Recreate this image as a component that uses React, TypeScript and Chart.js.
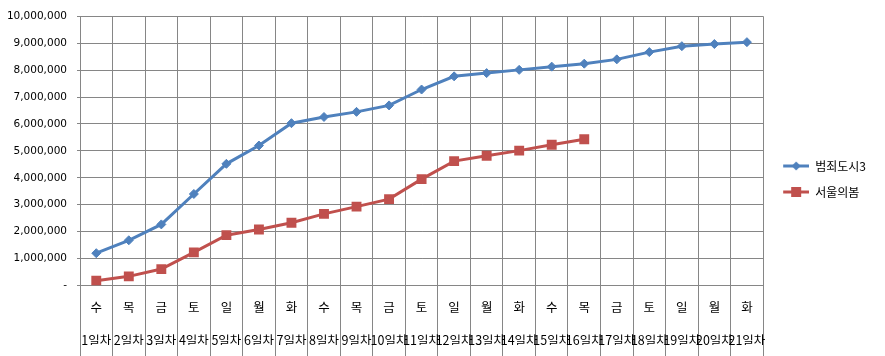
import { useEffect, useRef } from 'react';
import { Chart, registerables } from 'chart.js';

Chart.register(...registerables);

const weekdays = ['수', '목', '금', '토', '일', '월', '화', '수', '목', '금', '토', '일', '월', '화', '수', '목', '금', '토', '일', '월', '화'];
const dayNumbers = ['1일차', '2일차', '3일차', '4일차', '5일차', '6일차', '7일차', '8일차', '9일차', '10일차', '11일차', '12일차', '13일차', '14일차', '15일차', '16일차', '17일차', '18일차', '19일차', '20일차', '21일차'];
const crimeCity3 = [1200000, 1680000, 2270000, 3400000, 4520000, 5200000, 6030000, 6260000, 6450000, 6690000, 7280000, 7770000, 7890000, 8010000, 8130000, 8240000, 8400000, 8670000, 8890000, 8970000, 9040000];
const seoulSpring = [180000, 340000, 610000, 1230000, 1870000, 2080000, 2330000, 2660000, 2930000, 3210000, 3950000, 4620000, 4820000, 5010000, 5230000, 5430000];
const seriesNames = ['범죄도시3', '서울의봄'];
const yTicksMax = 10000000;
const yTickStep = 1000000;

const BLUE = '#4F81BD';
const RED = '#C0504D';
const GRID = '#868686';

function legendIcon(color: string, style: 'diamond' | 'square'): HTMLCanvasElement {
  const c = document.createElement('canvas');
  c.width = 32;
  c.height = 12;
  const ctx = c.getContext('2d')!;
  ctx.strokeStyle = color;
  ctx.lineWidth = 3;
  ctx.beginPath();
  ctx.moveTo(6, 6);
  ctx.lineTo(32, 6);
  ctx.stroke();
  ctx.fillStyle = color;
  const cx = 19;
  if (style === 'diamond') {
    ctx.beginPath();
    ctx.moveTo(cx, 1.5);
    ctx.lineTo(cx + 4.5, 6);
    ctx.lineTo(cx, 10.5);
    ctx.lineTo(cx - 4.5, 6);
    ctx.closePath();
    ctx.fill();
  } else {
    ctx.fillRect(cx - 5, 1, 10, 10);
  }
  return c;
}

export default function App() {
  const canvasRef = useRef<HTMLCanvasElement | null>(null);

  useEffect(() => {
    document.body.style.margin = '0';
    const canvas = canvasRef.current;
    if (!canvas) return;
    const icons = [legendIcon(BLUE, 'diamond'), legendIcon(RED, 'square')];
    const labels = weekdays.map((d, i) => [d, dayNumbers[i]]);
    const font = '"Noto Sans CJK KR", "DejaVu Sans", sans-serif';

    const chart = new Chart(canvas, {
      type: 'line',
      data: {
        labels,
        datasets: [
          {
            label: seriesNames[0],
            data: crimeCity3,
            borderColor: BLUE,
            backgroundColor: BLUE,
            borderWidth: 3,
            pointStyle: 'rectRot',
            pointRadius: 4.5,
            pointBorderWidth: 1,
            pointBackgroundColor: BLUE,
            pointBorderColor: BLUE,
            tension: 0,
          },
          {
            label: seriesNames[1],
            data: seoulSpring,
            borderColor: RED,
            backgroundColor: RED,
            borderWidth: 3,
            pointStyle: 'rect',
            pointRadius: 7,
            pointBorderWidth: 0,
            pointBackgroundColor: RED,
            pointBorderColor: RED,
            tension: 0,
          },
        ],
      },
      options: {
        animation: false,
        responsive: false,
        maintainAspectRatio: false,
        layout: { padding: { top: 13, right: 9, bottom: 11, left: 0 } },
        plugins: {
          tooltip: { enabled: false },
          legend: {
            position: 'right',
            labels: {
              usePointStyle: true,
              pointStyleWidth: 32,
              padding: 14,
              color: '#000',
              font: { family: font, size: 12, lineHeight: 1 },
              generateLabels: (ch: any) => {
                const items = Chart.defaults.plugins.legend.labels.generateLabels(ch);
                return items.map((it: any, i: number) => ({ ...it, pointStyle: icons[i], lineWidth: 0 }));
              },
            },
          },
        },
        scales: {
          x: {
            type: 'category',
            offset: true,
            afterFit: (s: any) => {
              s.height = 59.5;
            },
            grid: {
              offset: true,
              color: GRID,
              lineWidth: 1,
              drawTicks: true,
              tickLength: 71,
              tickColor: GRID,
            },
            border: { color: GRID, width: 1 },
            ticks: {
              autoSkip: false,
              maxRotation: 0,
              minRotation: 0,
              padding: -66,
              color: '#000',
              font: { family: font, size: 12.5, lineHeight: '33px' as any },
            },
          },
          y: {
            min: 0,
            max: yTicksMax,
            afterFit: (s: any) => {
              s.width = 80;
            },
            grid: {
              color: GRID,
              lineWidth: 1,
              tickLength: 3,
              tickColor: GRID,
            },
            border: { color: GRID, width: 1 },
            ticks: {
              stepSize: yTickStep,
              padding: 10,
              color: '#000',
              font: { family: '"DejaVu Sans", sans-serif', size: 10.5 },
              callback: (v: any) => (Number(v) === 0 ? '-' : Number(v).toLocaleString('en-US')),
            },
          },
        },
      },
    });
    return () => chart.destroy();
  }, []);

  return (
    <div style={{ width: 885, height: 356, background: '#fff' }}>
      <canvas ref={canvasRef} width={885} height={356} style={{ display: 'block' }} />
    </div>
  );
}
